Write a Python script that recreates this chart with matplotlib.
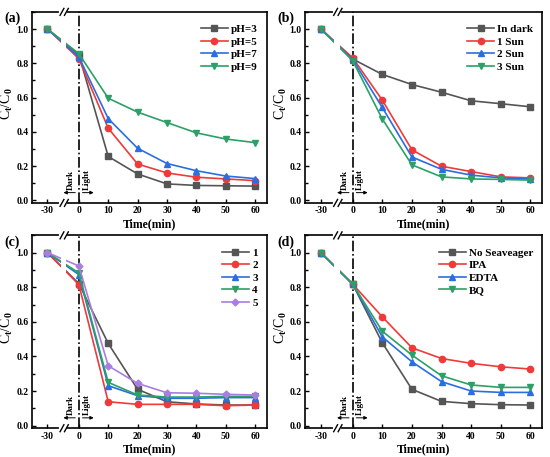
import matplotlib
matplotlib.use('Agg')
import matplotlib.pyplot as plt
import matplotlib.transforms as mtransforms
from matplotlib.ticker import MultipleLocator

plt.rcParams['font.family'] = 'Liberation Serif'
plt.rcParams['font.weight'] = 'bold'
plt.rcParams['mathtext.fontset'] = 'custom'
plt.rcParams['mathtext.rm'] = 'Liberation Serif:bold'
plt.rcParams['mathtext.it'] = 'Liberation Serif:bold'
plt.rcParams['mathtext.default'] = 'rm'

# time points (min)
time = [-30, 0, 10, 20, 30, 40, 50, 60]
tick_labels = ['-30', '0', '10', '20', '30', '40', '50', '60']

# (a) pH
ph_labels = ['pH=3', 'pH=5', 'pH=7', 'pH=9']
ph3 = [1.0, 0.850, 0.256, 0.154, 0.096, 0.087, 0.085, 0.083]
ph5 = [1.0, 0.827, 0.421, 0.212, 0.160, 0.135, 0.125, 0.115]
ph7 = [1.0, 0.837, 0.477, 0.304, 0.215, 0.173, 0.142, 0.127]
ph9 = [1.0, 0.856, 0.596, 0.515, 0.454, 0.394, 0.358, 0.337]

# (b) light intensity
sun_labels = ['In dark', '1 Sun', '2 Sun', '3 Sun']
in_dark = [1.0, 0.825, 0.735, 0.676, 0.631, 0.581, 0.564, 0.546]
sun1 = [1.0, 0.832, 0.585, 0.295, 0.199, 0.168, 0.137, 0.131]
sun2 = [1.0, 0.822, 0.542, 0.253, 0.181, 0.147, 0.131, 0.124]
sun3 = [1.0, 0.815, 0.475, 0.207, 0.137, 0.125, 0.122, 0.118]

# (c) cycles
cyc_labels = ['1', '2', '3', '4', '5']
cyc1 = [1.0, 0.821, 0.475, 0.210, 0.138, 0.125, 0.119, 0.119]
cyc2 = [1.0, 0.815, 0.138, 0.123, 0.123, 0.123, 0.115, 0.119]
cyc3 = [1.0, 0.873, 0.231, 0.173, 0.158, 0.158, 0.162, 0.162]
cyc4 = [1.0, 0.883, 0.250, 0.177, 0.165, 0.165, 0.169, 0.169]
cyc5 = [1.0, 0.923, 0.346, 0.244, 0.190, 0.187, 0.181, 0.177]

# (d) scavengers
sc_labels = ['No Seaveager', 'IPA', 'EDTA', 'BQ']
no_sc = [1.0, 0.818, 0.479, 0.210, 0.140, 0.127, 0.121, 0.119]
ipa = [1.0, 0.818, 0.629, 0.450, 0.388, 0.360, 0.340, 0.327]
edta = [1.0, 0.818, 0.513, 0.369, 0.254, 0.200, 0.192, 0.192]
bq = [1.0, 0.818, 0.546, 0.408, 0.288, 0.235, 0.221, 0.221]

colors = ['#555555', '#f03a3a', '#2a6ee0', '#2ca066', '#a97ee0']
markers = ['s', 'o', '^', 'v', 'D']
msizes = [4, 4.5, 4.5, 4.5, 3.5]


def xpos(t):
    # compressed scale before the axis break
    return t * 10.7 / 30 if t < 0 else t


def draw_panel(ax, label, series, names):
    xs = [xpos(t) for t in time]
    for i, (ys, nm) in enumerate(zip(series, names)):
        ax.plot(xs, ys, color=colors[i], marker=markers[i], ms=msizes[i],
                lw=1.2, label=nm, zorder=3)
    ax.set_xlim(-16, 64)
    ax.set_ylim(-0.015, 1.1)
    ax.set_xticks([xpos(t) for t in time])
    ax.set_xticklabels(tick_labels)
    ax.yaxis.set_major_locator(MultipleLocator(0.2))
    ax.yaxis.set_minor_locator(MultipleLocator(0.1))
    ax.tick_params(direction='in', labelsize=7, width=1, length=3, pad=2.5)
    ax.tick_params(which='minor', direction='in', width=1, length=2)
    for sp in ax.spines.values():
        sp.set_linewidth(1.2)
    ax.set_xlabel('Time(min)', fontsize=8.5, fontweight='bold', labelpad=2)
    ax.set_ylabel('C$_t$/C$_0$', fontsize=10)
    ax.yaxis.set_label_coords(-0.07, 0.52)

    # gap in the lines at the axis break
    ax.axvspan(-6.2, -4.4, ymin=0.65, ymax=0.97, color='white', lw=0,
               zorder=4)
    # break marks
    trans = mtransforms.blended_transform_factory(ax.transData, ax.transAxes)
    for yy in (0.0, 1.0):
        ax.plot([-6.0, -4.6], [yy, yy], color='white', lw=3,
                transform=trans, clip_on=False, zorder=5)
        for dx in (-6.4, -4.9):
            ax.plot([dx, dx + 1.3], [yy - 0.018, yy + 0.018], color='black',
                    lw=1, transform=trans, clip_on=False, zorder=6)

    ax.axvline(0, color='black', lw=1.2, ls='-.', zorder=2)

    ax.annotate('', xy=(-6.2, 0.045), xytext=(-0.3, 0.045),
                arrowprops=dict(arrowstyle='-|>', color='black', lw=0.7,
                                mutation_scale=5))
    ax.annotate('', xy=(6.0, 0.045), xytext=(0.3, 0.045),
                arrowprops=dict(arrowstyle='-|>', color='black', lw=0.7,
                                mutation_scale=5))
    ax.text(-2.6, 0.06, 'Dark', rotation=90, fontsize=6.5, ha='center',
            va='bottom')
    ax.text(2.6, 0.06, 'Light', rotation=90, fontsize=6.5, ha='center',
            va='bottom')

    ax.text(-0.118, 1.0, label, transform=ax.transAxes, fontsize=10,
            fontweight='bold', ha='left', va='top', clip_on=False)
    ax.legend(loc='upper right', bbox_to_anchor=(0.99, 0.97), frameon=False,
              fontsize=8, labelspacing=0.25, handlelength=2.4,
              handletextpad=0.3, borderaxespad=0.2)


fig = plt.figure(figsize=(5.5, 4.57), dpi=100)
ax_a = fig.add_axes([0.058, 0.556, 0.427, 0.418])
ax_b = fig.add_axes([0.555, 0.556, 0.431, 0.418])
ax_c = fig.add_axes([0.058, 0.063, 0.427, 0.422])
ax_d = fig.add_axes([0.555, 0.063, 0.431, 0.422])

draw_panel(ax_a, '(a)', [ph3, ph5, ph7, ph9], ph_labels)
draw_panel(ax_b, '(b)', [in_dark, sun1, sun2, sun3], sun_labels)
draw_panel(ax_c, '(c)', [cyc1, cyc2, cyc3, cyc4, cyc5], cyc_labels)
draw_panel(ax_d, '(d)', [no_sc, ipa, edta, bq], sc_labels)

fig.savefig('out.png', dpi=100)
